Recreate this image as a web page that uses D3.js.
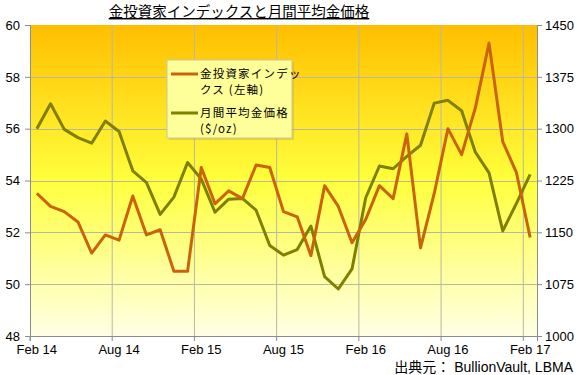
<!DOCTYPE html>
<html>
  <head>
    <meta charset="utf-8">
    <style>
      body { margin: 0px; overflow: hidden; background: #fff; }
      text { font-family: "Liberation Sans", Arial, sans-serif; }
      .jp { font-family: "Noto Sans CJK JP", sans-serif; }
      .src { font-family: "Liberation Sans", "Noto Sans CJK JP", sans-serif; }
    </style>
    <script src="https://d3js.org/d3.v7.min.js"></script>
  </head>
  <body>
    <svg width="578" height="375"></svg>
    <script>
      // monthly categories Feb 14 .. Feb 17
      const months = d3.timeMonths(new Date(2014, 1, 1), new Date(2017, 2, 1));
      const tickLabels = ['Feb 14', 'Aug 14', 'Feb 15', 'Aug 15', 'Feb 16', 'Aug 16', 'Feb 17'];

      // gold investor index (left axis)
      const indexValues = [53.5, 53.0, 52.8, 52.4, 51.2, 51.9, 51.7, 53.4, 51.9, 52.1, 50.5, 50.5,
        54.5, 53.1, 53.6, 53.3, 54.6, 54.5, 52.8, 52.6, 51.1, 53.8, 53.0, 51.6,
        52.5, 53.8, 53.3, 55.8, 51.4, 53.5, 56.0, 55.0, 56.8, 59.3, 55.5, 54.3, 51.8];

      // monthly average gold price $/oz (right axis)
      const goldPrice = [1300, 1336, 1299, 1287, 1279, 1311, 1296, 1239, 1222, 1176, 1201, 1251,
        1227, 1179, 1198, 1199, 1182, 1131, 1117, 1125, 1159, 1086, 1068, 1097,
        1200, 1246, 1242, 1260, 1276, 1337, 1341, 1326, 1266, 1236, 1152, 1192, 1234];

      const leftTicks = [48, 50, 52, 54, 56, 58, 60];
      const rightTicks = [1000, 1075, 1150, 1225, 1300, 1375, 1450];

      const svg = d3.select('svg');
      const margin = { top: 25, right: 41, bottom: 39, left: 30 };
      const width = +svg.attr('width') - margin.left - margin.right;
      const height = +svg.attr('height') - margin.top - margin.bottom;

      const x = d3.scaleBand().domain(d3.range(months.length)).range([0, width]);
      const xc = i => x(i) + x.bandwidth() / 2;
      const yL = d3.scaleLinear().domain([48, 60]).range([height, 0]);
      const yR = d3.scaleLinear().domain([1000, 1450]).range([height, 0]);

      const defs = svg.append('defs');
      const grad = defs.append('linearGradient').attr('id', 'bg')
        .attr('x1', 0).attr('y1', 0).attr('x2', 0).attr('y2', 1);
      grad.append('stop').attr('offset', '0%').attr('stop-color', '#ffbf00');
      grad.append('stop').attr('offset', '50%').attr('stop-color', '#ffff3c');
      grad.append('stop').attr('offset', '100%').attr('stop-color', '#ffffe6');

      const g = svg.append('g')
        .attr('transform', `translate(${margin.left},${margin.top})`);

      g.append('rect').attr('width', width).attr('height', height).attr('fill', 'url(#bg)');

      // gridlines
      const gridIdx = d3.range(6, months.length, 6);
      g.selectAll('.vgrid').data(gridIdx).enter().append('line')
        .attr('x1', d => x(d)).attr('x2', d => x(d))
        .attr('y1', 0).attr('y2', height)
        .attr('stroke', '#b8b8a0').attr('stroke-width', 1);
      g.selectAll('.hgrid').data(leftTicks.slice(1, -1)).enter().append('line')
        .attr('x1', 0).attr('x2', width)
        .attr('y1', d => Math.round(yL(d)) + 0.5).attr('y2', d => Math.round(yL(d)) + 0.5)
        .attr('stroke', '#b8b8a0').attr('stroke-width', 1);

      // axes
      const axisL = g.append('g')
        .call(d3.axisLeft(yL).tickValues(leftTicks).tickSize(5).tickPadding(5));
      const axisR = g.append('g').attr('transform', `translate(${width},0)`)
        .call(d3.axisRight(yR).tickValues(rightTicks).tickFormat(d3.format('d')).tickSize(5).tickPadding(3));
      const axisB = g.append('g').attr('transform', `translate(0,${height})`)
        .call(d3.axisBottom(x).tickValues(gridIdx.concat([0])).tickSize(5).tickFormat(''));
      [axisL, axisR, axisB].forEach(a => {
        a.select('.domain').attr('stroke', '#8c8c8c');
        a.selectAll('.tick line').attr('stroke', '#8c8c8c');
        a.selectAll('text').attr('font-size', 13).attr('fill', '#000');
      });
      axisB.selectAll('.tick line').attr('transform', `translate(${-x.bandwidth() / 2},0)`);

      g.selectAll('.xlab').data(tickLabels).enter().append('text')
        .attr('x', (d, i) => xc(i * 6))
        .attr('y', height + 18)
        .attr('text-anchor', 'middle')
        .attr('font-size', 13)
        .text(d => d);

      // lines
      const lineIdx = d3.line().x((d, i) => xc(i)).y(d => yL(d));
      const linePrice = d3.line().x((d, i) => xc(i)).y(d => yR(d));
      g.append('path').datum(goldPrice).attr('d', linePrice)
        .attr('fill', 'none').attr('stroke', '#7f7f00').attr('stroke-width', 3)
        .attr('stroke-linejoin', 'round');
      g.append('path').datum(indexValues).attr('d', lineIdx)
        .attr('fill', 'none').attr('stroke', '#c9640c').attr('stroke-width', 3)
        .attr('stroke-linejoin', 'round');

      // legend
      const lg = svg.append('g').attr('transform', 'translate(167,60)');
      lg.append('rect').attr('x', 2).attr('y', 2).attr('width', 125).attr('height', 78).attr('fill', '#c9a640').attr('opacity', 0.4);
      lg.append('rect').attr('width', 125).attr('height', 78)
        .attr('fill', '#ffff99').attr('stroke', '#c8c8a0');
      const legendItems = [
        { color: '#c9640c', lines: ['金投資家インデッ', 'クス (左軸)'], y: 14 },
        { color: '#7f7f00', lines: ['月間平均金価格', '($/oz)'], y: 53 }
      ];
      legendItems.forEach(it => {
        lg.append('line').attr('x1', 4).attr('x2', 31).attr('y1', it.y).attr('y2', it.y)
          .attr('stroke', it.color).attr('stroke-width', 3);
        it.lines.forEach((t, j) => {
          lg.append('text').attr('class', 'jp').attr('x', 33).attr('y', it.y + 4 + j * 16)
            .attr('font-size', 11.5).attr('letter-spacing', 1.2).text(t);
        });
      });

      // title and source
      svg.append('text').attr('class', 'jp')
        .attr('x', 239).attr('y', 17).attr('text-anchor', 'middle')
        .attr('font-size', 14.5).attr('text-decoration', 'underline')
        .text('金投資家インデックスと月間平均金価格');
      svg.append('text').attr('class', 'src')
        .attr('x', 573).attr('y', 372).attr('text-anchor', 'end')
        .attr('font-size', 14)
        .text('出典元： BullionVault, LBMA');
    </script>
  </body>
</html>
